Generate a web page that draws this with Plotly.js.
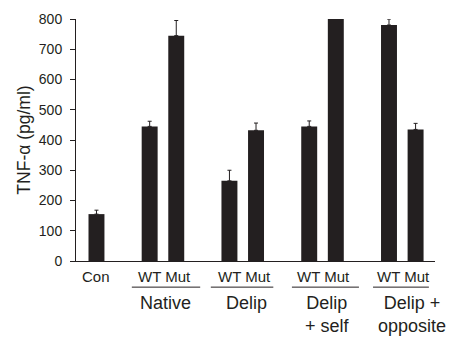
<!DOCTYPE html>
<html><head><meta charset="utf-8">
<script src="https://cdn.plot.ly/plotly-3.0.1.min.js"></script>
<style>html,body{margin:0;padding:0;background:#fff}#c{width:451px;height:337px}</style>
</head><body><div id="c"></div>
<script>
// Data
const barPositions = [0, 2, 3, 5, 6, 8, 9, 11, 12];
const barLabels = ["Con", "Native WT", "Native Mut", "Delip WT", "Delip Mut", "Delip + self WT", "Delip + self Mut", "Delip + opposite WT", "Delip + opposite Mut"];
const tnfValues = [155, 445, 745, 265, 432, 445, 810, 780, 435];
const tnfErrors = [13, 17, 50, 35, 24, 18, 0, 20, 20];
const yTicks = [0, 100, 200, 300, 400, 500, 600, 700, 800];
const groupNames = ["Native", "Delip", "Delip<br>+ self", "Delip +<br>opposite"];
const groupCenters = [2.6, 5.65, 8.7, 11.85];
const pairCenters = [2.55, 5.55, 8.55, 11.55];
const lineStarts = [1.33, 4.3, 7.35, 10.4];
const lineEnds = [3.9, 6.65, 9.87, 12.5];

const font = "Liberation Sans, Arial, Helvetica, sans-serif";
const annotations = [];
annotations.push({x: 0, y: 0, xref: 'x', yref: 'paper', yanchor: 'middle', yshift: -15, text: "Con", showarrow: false, font: {family: font, size: 15, color: '#231f20'}});
pairCenters.forEach(c => annotations.push({x: c, y: 0, xref: 'x', yref: 'paper', yanchor: 'middle', yshift: -15, text: "WT Mut", showarrow: false, font: {family: font, size: 15, color: '#231f20'}}));
groupNames.forEach((g, i) => annotations.push({x: groupCenters[i], y: 0, xref: 'x', yref: 'paper', yanchor: 'top', yshift: -30, text: g, showarrow: false, align: 'center', font: {family: font, size: 18, color: '#231f20'}}));
const shapes = lineStarts.map((s, i) => ({type: 'line', xref: 'x', yref: 'paper', x0: s, x1: lineEnds[i], y0: -0.108, y1: -0.108, line: {color: '#231f20', width: 1}}));

Plotly.newPlot('c', [{
  type: 'bar', x: barPositions, y: tnfValues, hovertext: barLabels, hoverinfo: 'text+y', textposition: 'none',
  width: 0.6, marker: {color: '#231f20'},
  error_y: {type: 'data', symmetric: false, array: tnfErrors, arrayminus: tnfErrors.map(() => 0), color: '#231f20', thickness: 1, width: 2}
}], {
  width: 451, height: 337,
  margin: {l: 76, r: 16, t: 19, b: 76},
  paper_bgcolor: '#fff', plot_bgcolor: '#fff',
  showlegend: false,
  xaxis: {range: [-0.77, 12.73], showticklabels: false, ticks: '', showgrid: false, zeroline: false, showline: true, linecolor: '#231f20', linewidth: 1, fixedrange: true},
  yaxis: {range: [0, 800], tickvals: yTicks, ticktext: yTicks.map(String), ticks: 'outside', ticklen: 5, tickcolor: '#231f20', ticklabelstandoff: 5, showgrid: false, zeroline: false, showline: true, linecolor: '#231f20', linewidth: 1,
    tickfont: {family: font, size: 14, color: '#231f20'},
    title: {text: "TNF-α (pg/ml)", font: {family: font, size: 17.5, color: '#231f20'}, standoff: 3}},
  annotations: annotations, shapes: shapes
}, {displayModeBar: false, staticPlot: true});
</script></body></html>
